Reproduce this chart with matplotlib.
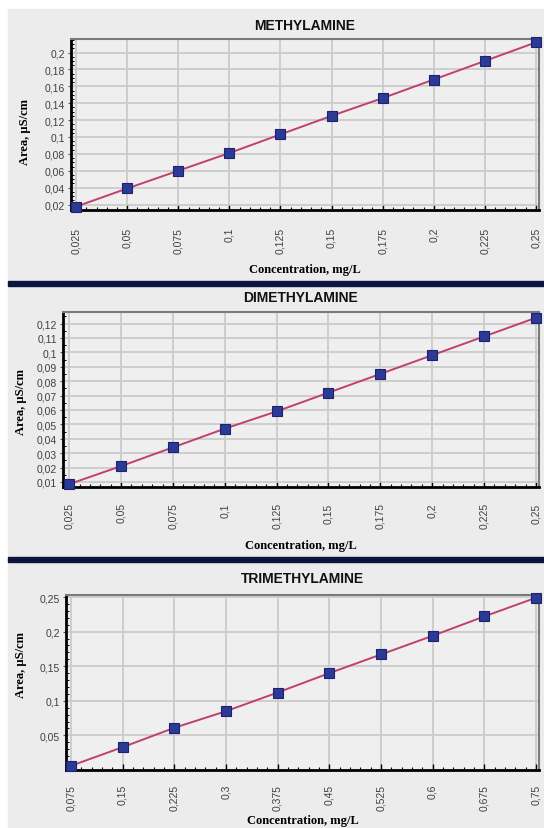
import numpy as np
import matplotlib.pyplot as plt
from matplotlib.patches import Rectangle
from matplotlib.ticker import FuncFormatter, AutoMinorLocator

# データ
methyl_conc = [0.025, 0.05, 0.075, 0.1, 0.125, 0.15, 0.175, 0.2, 0.225, 0.25]
methyl_area = [0.0175, 0.039, 0.060, 0.081, 0.103, 0.125, 0.146, 0.168, 0.190, 0.212]
methyl_yticks = [0.02, 0.04, 0.06, 0.08, 0.1, 0.12, 0.14, 0.16, 0.18, 0.2]

dimethyl_conc = [0.025, 0.05, 0.075, 0.1, 0.125, 0.15, 0.175, 0.2, 0.225, 0.25]
dimethyl_area = [0.0085, 0.021, 0.034, 0.047, 0.059, 0.072, 0.085, 0.098, 0.111, 0.124]
dimethyl_yticks = [0.01, 0.02, 0.03, 0.04, 0.05, 0.06, 0.07, 0.08, 0.09, 0.1, 0.11, 0.12]

trimethyl_conc = [0.075, 0.15, 0.225, 0.3, 0.375, 0.45, 0.525, 0.6, 0.675, 0.75]
trimethyl_area = [0.006, 0.033, 0.061, 0.085, 0.112, 0.140, 0.167, 0.194, 0.222, 0.249]
trimethyl_yticks = [0.05, 0.1, 0.15, 0.2, 0.25]

W, H = 544, 829
BG = '#ececec'

fig = plt.figure(figsize=(W / 100, H / 100), dpi=100, facecolor='white')

# 背景と区切り線
fig.patches.append(Rectangle((8 / W, 0), 1, 1 - 10 / H, transform=fig.transFigure,
                             color=BG, zorder=-10))
for y0, y1 in [(282, 287), (558, 563)]:
    fig.patches.append(Rectangle((8 / W, 1 - y1 / H), 1, (y1 - y0) / H,
                                 transform=fig.transFigure, color='#0c1440', zorder=-5))

comma = FuncFormatter(lambda v, p: ('%g' % v).replace('.', ','))


def panel(box, title, x, y, xlim, ylim, yticks, yminor, title_y, ylab_y, ylab_x, xlab_y, xpad):
    left, right, top, bottom = box
    ax = fig.add_axes([left / W, 1 - bottom / H, (right - left) / W, (bottom - top) / H])
    ax.set_facecolor('#efefef')
    ax.grid(True, color='#cbcbcb', lw=1.3)
    ax.set_axisbelow(True)
    ax.plot(x, y, color='#c0406e', lw=1.4, zorder=3)
    ax.plot(x, y, ls='none', marker='s', ms=7, mfc='#2b3a96', mec='#1b2370',
            mew=0.8, zorder=4, clip_on=False)
    ax.set_xlim(*xlim)
    ax.set_ylim(*ylim)
    ax.set_xticks(x)
    ax.set_yticks(yticks)
    ax.xaxis.set_major_formatter(comma)
    ax.yaxis.set_major_formatter(comma)
    ax.xaxis.set_minor_locator(AutoMinorLocator(5))
    ax.yaxis.set_minor_locator(AutoMinorLocator(yminor))
    ax.tick_params(axis='x', which='major', direction='in', length=4, width=1,
                   pad=xpad, labelrotation=90, labelsize=7.5, labelcolor='#404040')
    ax.tick_params(axis='x', which='minor', direction='in', length=2.5, width=0.8)
    ax.tick_params(axis='y', which='major', direction='out', length=2.5, width=0.8,
                   pad=2, labelsize=7.5, labelcolor='#404040', color='#555555')
    ax.tick_params(axis='y', which='minor', direction='in', length=2, width=0.7)
    for lab in ax.get_xticklabels() + ax.get_yticklabels():
        lab.set_family('Liberation Sans')
    for s in ['left', 'bottom']:
        ax.spines[s].set_color('black')
        ax.spines[s].set_linewidth(2)
    for s in ['top', 'right']:
        ax.spines[s].set_color('#7a7a7a')
        ax.spines[s].set_linewidth(1.5)
    cx = (left + right) / 2
    fig.text(cx / W, 1 - title_y / H, title, ha='center', va='center',
             family='Liberation Sans', weight='bold', fontsize=10, color='#111111')
    fig.text(ylab_x / W, 1 - ylab_y / H, 'Area, µS/cm', rotation=90, ha='center',
             va='center', family='Liberation Serif', weight='bold', fontsize=9)
    fig.text(cx / W, 1 - xlab_y / H, 'Concentration, mg/L', ha='center', va='center',
             family='Liberation Serif', weight='bold', fontsize=9)
    return ax


panel((71, 539, 40, 211), 'METHYLAMINE', methyl_conc, methyl_area,
      (0.0225, 0.2515), (0.0135, 0.216), methyl_yticks, 4, 26, 132, 25, 270, 12)
panel((63, 539, 313, 488), 'DIMETHYLAMINE', dimethyl_conc, dimethyl_area,
      (0.022, 0.2515), (0.0065, 0.128), dimethyl_yticks, 2, 298, 402, 21, 546, 11)
panel((66, 539, 596, 771), 'TRIMETHYLAMINE', trimethyl_conc, trimethyl_area,
      (0.0678, 0.7545), (0.0, 0.253), trimethyl_yticks, 5, 579, 665, 21, 821, 10)

fig.savefig('out.png', dpi=100, facecolor='white')
